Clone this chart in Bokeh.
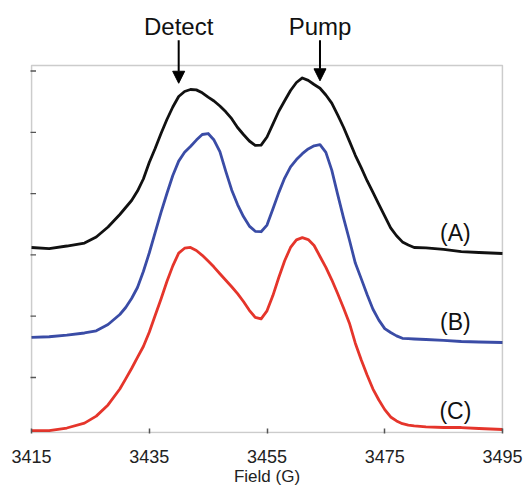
from bokeh.plotting import figure
from bokeh.models import Range1d, FixedTicker, Label, Arrow, NormalHead, BoxAnnotation
from bokeh.embed import file_html
from bokeh.resources import INLINE

# ---- data (Field in G, intensity in arbitrary offset units) ----
field = [3415, 3418, 3421, 3424, 3426, 3428,
         3430, 3431, 3432, 3433, 3434, 3435, 3436, 3437, 3438, 3439,
         3440, 3441, 3442, 3443, 3444, 3445, 3446, 3447, 3448, 3449,
         3450, 3451, 3452, 3453, 3454, 3455, 3456, 3457, 3458, 3459,
         3460, 3461, 3462, 3463, 3464, 3465, 3466, 3467, 3468, 3469,
         3470, 3471, 3472, 3473, 3474, 3475, 3476, 3477, 3478, 3479,
         3480, 3482, 3485, 3488, 3491, 3495]

trace_a = [3.121, 3.104, 3.145, 3.194, 3.292, 3.455,
           3.659, 3.773, 3.887, 4.042, 4.238, 4.507, 4.736, 4.980, 5.209, 5.413,
           5.584, 5.666, 5.698, 5.692, 5.644, 5.573, 5.511, 5.429, 5.334, 5.222,
           5.078, 4.964, 4.858, 4.788, 4.791, 4.923, 5.134, 5.344, 5.514, 5.682,
           5.812, 5.887, 5.847, 5.780, 5.719, 5.608, 5.476, 5.284, 5.082, 4.856,
           4.625, 4.423, 4.210, 4.018, 3.825, 3.633, 3.442, 3.312, 3.212, 3.162,
           3.121, 3.116, 3.091, 3.055, 3.039, 3.023]

trace_b = [1.653, 1.665, 1.690, 1.726, 1.762, 1.865,
           2.028, 2.142, 2.289, 2.468, 2.729, 3.031, 3.365, 3.692, 4.002, 4.295,
           4.530, 4.674, 4.768, 4.873, 4.964, 4.980, 4.874, 4.684, 4.361, 4.060,
           3.822, 3.626, 3.470, 3.385, 3.378, 3.486, 3.747, 4.016, 4.253, 4.436,
           4.556, 4.651, 4.729, 4.780, 4.799, 4.672, 4.383, 3.987, 3.604, 3.243,
           2.866, 2.613, 2.354, 2.113, 1.936, 1.798, 1.734, 1.679, 1.639, 1.633,
           1.628, 1.620, 1.604, 1.587, 1.579, 1.571]

trace_c = [0.135, 0.135, 0.176, 0.256, 0.370, 0.553,
           0.812, 0.977, 1.147, 1.328, 1.506, 1.739, 2.011, 2.281, 2.566, 2.821,
           3.029, 3.109, 3.121, 3.072, 2.993, 2.899, 2.801, 2.692, 2.587, 2.481,
           2.369, 2.240, 2.096, 1.982, 1.956, 2.088, 2.336, 2.631, 2.905, 3.121,
           3.245, 3.281, 3.250, 3.153, 2.974, 2.796, 2.594, 2.370, 2.134, 1.886,
           1.560, 1.289, 1.042, 0.811, 0.633, 0.476, 0.356, 0.292, 0.246, 0.223,
           0.210, 0.196, 0.184, 0.184, 0.168, 0.152]

x_ticks = [3415, 3435, 3455, 3475, 3495]
y_ticks = [1, 2, 3, 4, 5, 6]
y_box = (0.103, 6.09)          # extent of the framed plot box

trace_names = ["(A)", "(B)", "(C)"]
trace_label_field = 3487
trace_label_level = [3.35, 1.91, 0.46]

arrow_names = ["Detect", "Pump"]
arrow_fields = [3440, 3464]
arrow_top = 6.50
arrow_tips = [5.80, 5.84]
arrow_text_level = 6.72

colors = ["#111111", "#3a4ca6", "#e5352b"]
FONT = "Liberation Sans"
BOX = "#555555"

p = figure(width=526, height=489, output_backend="svg", toolbar_location=None,
           x_range=Range1d(3414.83, 3495.17), y_range=Range1d(0.0865, 7.15),
           min_border_left=30, min_border_right=23, min_border_top=0,
           min_border_bottom=56, background_fill_color="white",
           border_fill_color="white")
p.grid.visible = False
p.outline_line_color = None

p.add_layout(BoxAnnotation(left=x_ticks[0], right=x_ticks[-1],
                           bottom=y_box[0], top=y_box[1],
                           fill_alpha=0, line_color=BOX, line_width=1.6))

xa = p.xaxis[0]
xa.ticker = FixedTicker(ticks=x_ticks)
xa.minor_tick_line_color = None
xa.major_tick_in = 5
xa.major_tick_out = 0
xa.major_tick_line_color = BOX
xa.major_tick_line_width = 1.5
xa.axis_line_color = None
xa.major_label_standoff = 16
xa.major_label_text_font = FONT
xa.major_label_text_font_size = "18px"
xa.major_label_text_color = "#222222"
xa.axis_label = "Field (G)"
xa.axis_label_standoff = 1
xa.axis_label_text_font = FONT
xa.axis_label_text_font_size = "17px"
xa.axis_label_text_font_style = "normal"
xa.axis_label_text_color = "#222222"

# left axis: inward ticks only, no tick labels
p.yaxis.visible = False
p.scatter(x=[x_ticks[0]] * len(y_ticks), y=y_ticks, marker="dash", size=9,
          line_color=BOX, line_width=1.3)

for ys, c in zip([trace_a, trace_b, trace_c], colors):
    p.line(field, ys, line_color=c, line_width=2.8, line_join="round")

for name, lvl in zip(trace_names, trace_label_level):
    p.add_layout(Label(x=trace_label_field, y=lvl, text=name, text_align="center",
                       text_baseline="middle", text_font=FONT,
                       text_font_size="23px", text_color="#111111"))

for name, fx, tip in zip(arrow_names, arrow_fields, arrow_tips):
    p.add_layout(Arrow(x_start=fx, y_start=arrow_top, x_end=fx, y_end=tip,
                       line_color="black", line_width=2,
                       end=NormalHead(size=12, fill_color="black", line_color="black")))
    p.add_layout(Label(x=fx, y=arrow_text_level, text=name, text_align="center",
                       text_baseline="middle", text_font=FONT,
                       text_font_size="24px", text_color="#111111"))

open("out.html", "w").write(file_html(p, INLINE))
